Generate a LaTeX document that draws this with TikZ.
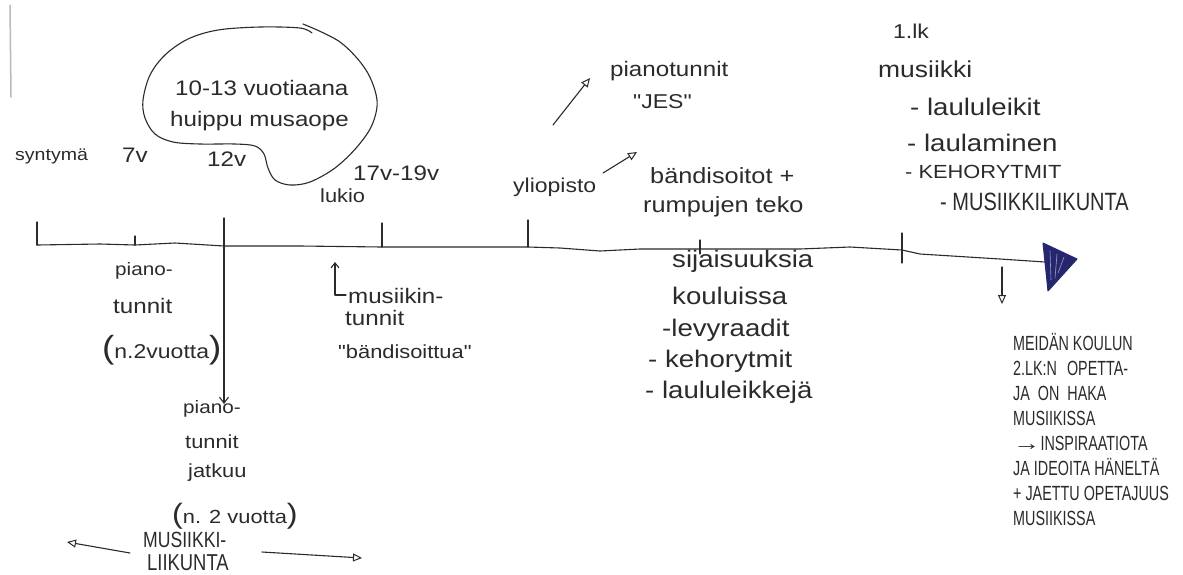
\documentclass[tikz,border=0pt]{standalone}
\usepackage{fontspec}
\setmainfont{Liberation Sans}[FakeStretch=1.15, Ligatures=TeXOff]
\newfontfamily\capsf{Liberation Sans}[FakeStretch=0.8, Ligatures=TeXOff]
\newfontfamily\narrowsf{Liberation Sans}[FakeStretch=0.7, Ligatures=TeXOff]
\newfontfamily\arrowsf{Liberation Sans}[FakeStretch=1.3]
\usetikzlibrary{arrows.meta}
\definecolor{ink}{HTML}{2B2B2B}
\definecolor{pen}{HTML}{26266E}
\newcommand\fsz[1]{\fontsize{#1}{#1}\selectfont}
\begin{document}
\begin{tikzpicture}[x=1pt,y=-1pt, line cap=round, line join=round,
  hw/.style={inner sep=0pt, anchor=base west, text=ink},
  capstxt/.style={inner sep=0pt, anchor=base west, text=ink, font=\narrowsf\fsz{20.5}},
  ln/.style={draw=ink, line width=1.1pt},
  oarrow/.style={ln, -{Triangle[open, length=9pt, width=8pt, line width=1pt]}},
  varrow/.style={ln, -{Straight Barb[length=6pt, width=9pt]}}]
\useasboundingbox[fill=white] (0,0) rectangle (1183,574);

% scan edge
\draw[gray!55, line width=1.5pt] (10,5) -- (11,97);

% timeline
\coordinate (t0) at (37,245);
\coordinate (t7) at (135,245);
\coordinate (t12) at (224,246);
\coordinate (t17) at (382,247);
\coordinate (tyo) at (528,247);
\coordinate (tm) at (700,249);
\coordinate (t1lk) at (902,250);
\coordinate (tend) at (1045,262);
\draw[ln] (t0) -- (100,244) -- (t7) -- (175,243) -- (t12) -- (300,246) -- (t17) -- (tyo)
  -- (560,248) -- (600,251) -- (640,249) -- (tm) -- (800,249) -- (850,247) -- (t1lk)
  -- (920,254) -- (1000,259) -- (tend);
\draw[ln] (t0) -- ++(0,-23);
\draw[ln] (t7) -- ++(0,-9);
\draw[ln] (224,218) -- (t12);
\draw[ln] (382,223) -- (t17);
\draw[ln] (528,220) -- (tyo);
\draw[ln] (700,240) -- (700,254);
\draw[ln] (902,233) -- (902,263);
\coordinate (pj) at (224,404);
\draw[varrow] (t12) -- (pj);

% end arrowhead
\fill[pen] (1043,243) -- (1077,259) -- (1048,291) -- cycle;
\draw[pen, line width=1pt] (1043,243) -- (1077,259) -- (1048,291) -- cycle;
\draw[pen!45!white, line width=0.6pt] (1050,251) -- (1051,280) (1057,254) -- (1055,278) (1064,257) -- (1058,273);

% down arrow to right block
\coordinate (d0) at (1002,267);
\coordinate (d1) at (1002,304);
\draw[oarrow] (d0) -- (d1);

% bubble
\draw[ln] plot[smooth, tension=0.55] coordinates {(303,24) (340,42) (366,70) (377,100) (372,125) (357,147) (335,168) (310,182) (290,185) (275,180) (268,168) (264,154) (255,146) (235,144) (200,144) (173,142) (155,134) (145,118) (143,100) (150,75) (165,55) (188,39) (218,30) (260,27) (300,28) (312,33)};

% top labels
\node[hw, font=\fsz{17}] (syn) at (15,160) {syntymä};
\node[hw, font=\fsz{21}] (v7) at (122,162) {7v};
\node[hw, font=\fsz{21}] (v12) at (207,166) {12v};
\node[hw, font=\fsz{21}] (b1) at (175,95) {10-13 vuotiaana};
\node[hw, font=\fsz{21}] (b2) at (170,126) {huippu musaope};
\node[hw, font=\fsz{21}] (v17) at (353,180) {17v-19v};
\node[hw, font=\fsz{19}] (luk) at (320,202) {lukio};
\node[hw, font=\fsz{20}] (yli) at (513,192) {yliopisto};
\node[hw, font=\fsz{21}] (pt) at (610,76) {pianotunnit};
\node[hw, font=\fsz{20}] (jes) at (633,108) {"JES"};
\node[hw, font=\fsz{22}] (bs) at (650,183) {bändisoitot +};
\node[hw, font=\fsz{22}] (rt) at (643,212) {rumpujen teko};
\coordinate (a1s) at (553,125);
\coordinate (a1e) at (590,78);
\draw[oarrow] (a1s) -- (a1e);
\coordinate (a2s) at (603,173);
\coordinate (a2e) at (637,152);
\draw[oarrow] (a2s) -- (a2e);

\node[hw, font=\fsz{20}] (lk) at (893,38) {1.lk};
\node[hw, font=\fsz{23}] (mus) at (878,77) {musiikki};
\node[hw, font=\fsz{24}] (ll) at (910,115) {- laululeikit};
\node[hw, font=\fsz{24}] (la) at (907,151) {- laulaminen};
\node[hw, font=\fsz{19}] (kr) at (905,178) {- KEHORYTMIT};
\node[capstxt, font=\capsf\fsz{25}] (ml) at (940,210) {- MUSIIKKILIIKUNTA};

% below timeline, left
\node[hw, font=\fsz{18}] (p1) at (115,275) {piano-};
\node[hw, font=\fsz{21}] (p2) at (113,313) {tunnit};
\node[hw, font=\fsz{20}] (p3) at (102,358) {{\fsz{32}(}n.2vuotta{\fsz{32})}};
\node[hw, font=\fsz{18}] (q1) at (183,413) {piano-};
\node[hw, font=\fsz{19}] (q2) at (185,448) {tunnit};
\node[hw, font=\fsz{19}] (q3) at (188,477) {jatkuu};
\node[hw, font=\fsz{19}] (q4) at (172,523) {{\fsz{28}(}n. 2 vuotta{\fsz{28})}};
\node[capstxt, font=\capsf\fsz{22}] (ml1) at (143,547) {MUSIIKKI-};
\node[capstxt, font=\capsf\fsz{23}] (ml2) at (147,570) {LIIKUNTA};
\coordinate (la0) at (130,553);
\coordinate (la1) at (67,542);
\draw[oarrow] (la0) -- (la1);
\coordinate (ra0) at (262,552);
\coordinate (ra1) at (362,558);
\draw[oarrow] (ra0) -- (ra1);

% musiikintunnit
\coordinate (u0) at (346,295);
\coordinate (u1) at (335,295);
\coordinate (u2) at (335,262);
\draw[ln, -{Straight Barb[length=5pt, width=8pt]}] (u0) -- (u1) -- (u2);
\node[hw, font=\fsz{21}] (m1) at (348,303) {musiikin-};
\node[hw, font=\fsz{21}] (m2) at (345,325) {tunnit};
\node[hw, font=\fsz{19}] (m3) at (338,358) {"bändisoittua"};

% sijaisuuksia
\node[hw, font=\fsz{24}] (s1) at (672,267) {sijaisuuksia};
\node[hw, font=\fsz{24}] (s2) at (672,304) {kouluissa};
\node[hw, font=\fsz{24}] (s3) at (662,336) {-levyraadit};
\node[hw, font=\fsz{24}] (s4) at (648,367) {- kehorytmit};
\node[hw, font=\fsz{24}] (s5) at (645,398) {- laululeikkejä};

% right block
\node[capstxt] (r1) at (1013,350) {MEIDÄN KOULUN};
\node[capstxt] (r2) at (1013,375) {2.LK:N\hspace{10pt}OPETTA-};
\node[capstxt] (r3) at (1013,400) {JA\hspace{8pt}ON\hspace{8pt}HAKA};
\node[capstxt] (r4) at (1013,425) {MUSIIKISSA};
\node[capstxt] (r5) at (1013,450) {{\arrowsf\fsz{21}→}INSPIRAATIOTA};
\node[capstxt] (r6) at (1013,475) {JA IDEOITA HÄNELTÄ};
\node[capstxt] (r7) at (1013,500) {+ JAETTU OPETAJUUS};
\node[capstxt] (r8) at (1013,525) {MUSIIKISSA};
\end{tikzpicture}
\end{document}
